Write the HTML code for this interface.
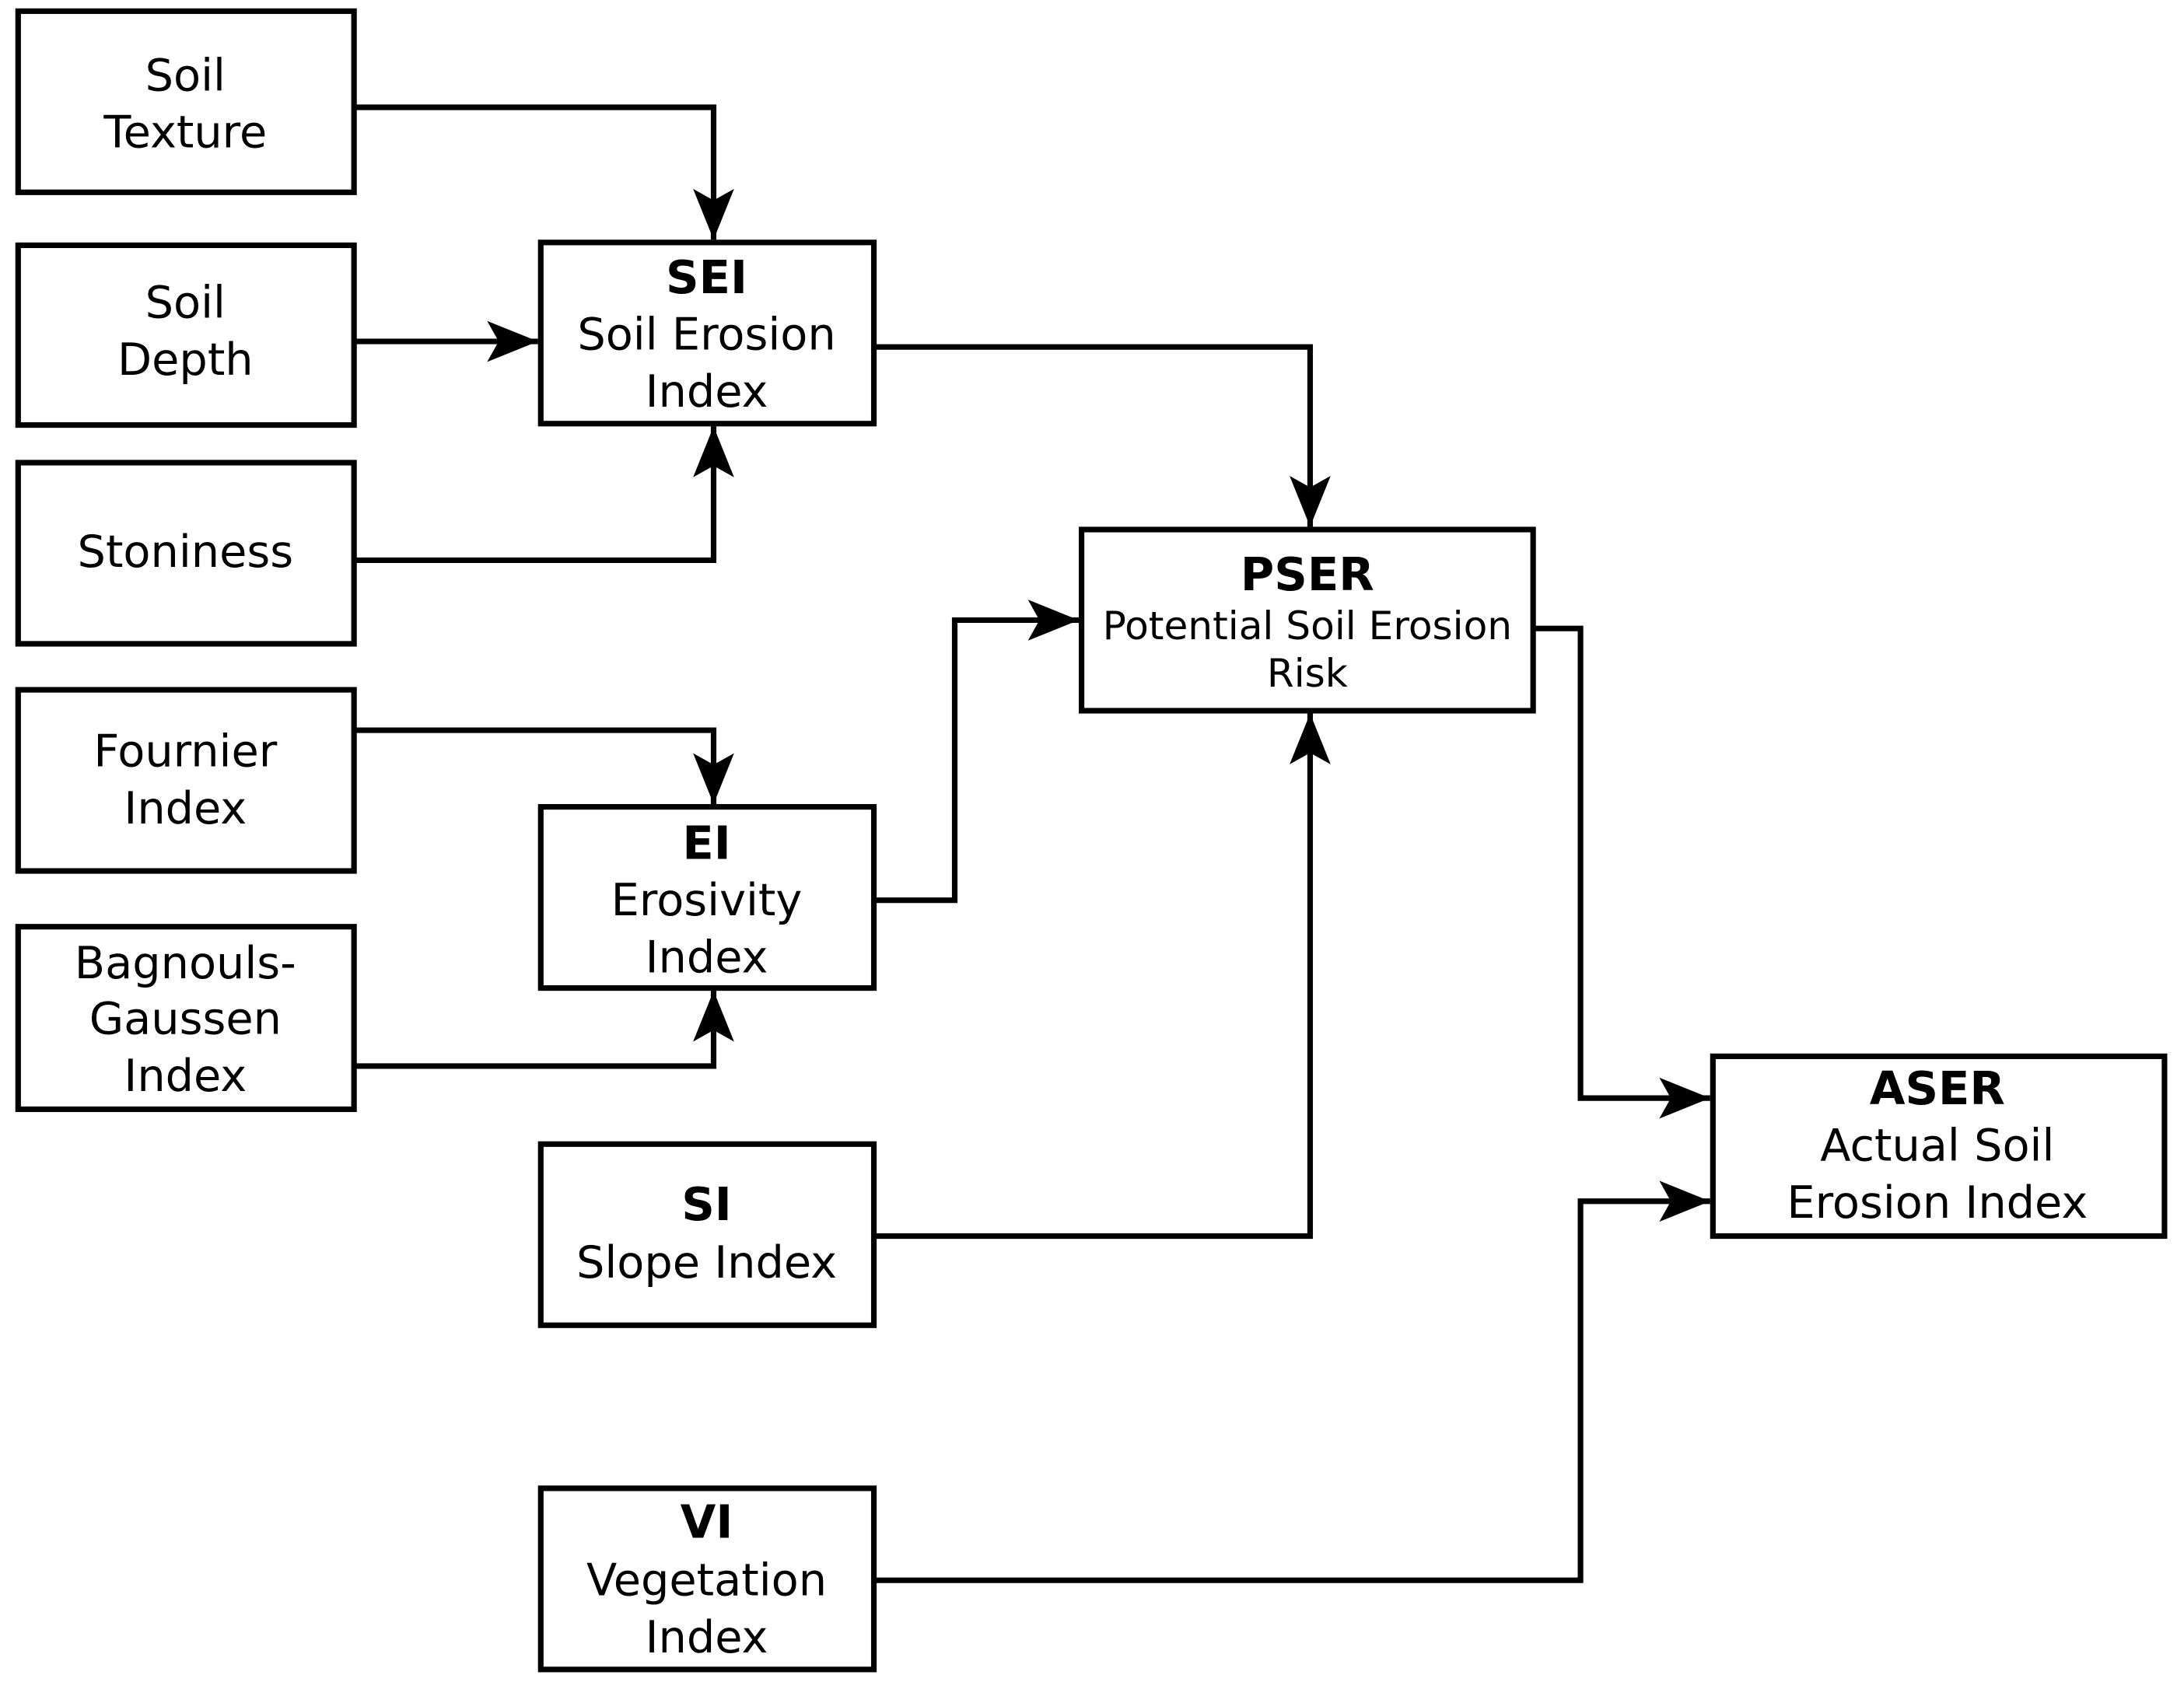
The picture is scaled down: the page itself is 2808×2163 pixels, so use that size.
<!DOCTYPE html>
<html><head><meta charset="utf-8"><style>
html,body{margin:0;padding:0;background:#fff;}
svg{display:block;}
text{font-family:"DejaVu Sans","Liberation Sans",sans-serif;fill:#000;text-anchor:middle;dominant-baseline:central;}
.t{font-size:32px;}
.b{font-size:33px;font-weight:bold;}
.s{font-size:28px;}
</style></head><body>
<svg width="2808" height="2163" viewBox="0 0 1567 1207" preserveAspectRatio="none" xmlns="http://www.w3.org/2000/svg">
<defs>
<marker id="a" markerUnits="userSpaceOnUse" markerWidth="40" markerHeight="40" viewBox="-32 -14 34 28" refX="0" refY="0" orient="auto">
<path d="M0,0 L-31,-12.5 L-24,0 L-31,12.5 Z" fill="#000"/>
</marker>
</defs>
<g fill="none" stroke="#000" stroke-width="4">
<rect x="13" y="8" width="241" height="130"/>
<rect x="13" y="176" width="241" height="129"/>
<rect x="13" y="332" width="241" height="130"/>
<rect x="13" y="495" width="241" height="130"/>
<rect x="13" y="665" width="241" height="131"/>
<rect x="388" y="174" width="239" height="130"/>
<rect x="388" y="579" width="239" height="130"/>
<rect x="388" y="821" width="239" height="130"/>
<rect x="388" y="1068" width="239" height="130"/>
<rect x="776" y="380" width="324" height="130"/>
<rect x="1229" y="758" width="324" height="129"/>
</g>
<g fill="none" stroke="#000" stroke-width="4" marker-end="url(#a)">
<path d="M254,77 H512 V172"/>
<path d="M254,245 H386"/>
<path d="M254,402 H512 V306"/>
<path d="M627,249 H940 V378"/>
<path d="M254,524 H512 V577"/>
<path d="M254,765 H512 V711"/>
<path d="M627,646 H685 V445 H774"/>
<path d="M627,887 H940 V512"/>
<path d="M1100,451 H1134 V788 H1227"/>
<path d="M627,1134 H1134 V862 H1227"/>
</g>
<text class="t" x="133" y="54">Soil</text>
<text class="t" x="133" y="95">Texture</text>
<text class="t" x="133" y="217">Soil</text>
<text class="t" x="133" y="258">Depth</text>
<text class="t" x="133" y="396">Stoniness</text>
<text class="t" x="133" y="539">Fournier</text>
<text class="t" x="133" y="580">Index</text>
<text class="t" x="133" y="691">Bagnouls-</text>
<text class="t" x="133" y="731">Gaussen</text>
<text class="t" x="133" y="772">Index</text>
<text class="b" x="507" y="199">SEI</text>
<text class="t" x="507" y="240">Soil Erosion</text>
<text class="t" x="507" y="281">Index</text>
<text class="b" x="507" y="605">EI</text>
<text class="t" x="507" y="646">Erosivity</text>
<text class="t" x="507" y="687">Index</text>
<text class="b" x="507" y="864">SI</text>
<text class="t" x="507" y="906">Slope Index</text>
<text class="b" x="507" y="1092">VI</text>
<text class="t" x="507" y="1134">Vegetation</text>
<text class="t" x="507" y="1175">Index</text>
<text class="b" x="938" y="412">PSER</text>
<text class="s" x="938" y="449">Potential Soil Erosion</text>
<text class="s" x="938" y="483">Risk</text>
<text class="b" x="1390" y="781">ASER</text>
<text class="t" x="1390" y="822">Actual Soil</text>
<text class="t" x="1390" y="863">Erosion Index</text>
</svg>
</body></html>
